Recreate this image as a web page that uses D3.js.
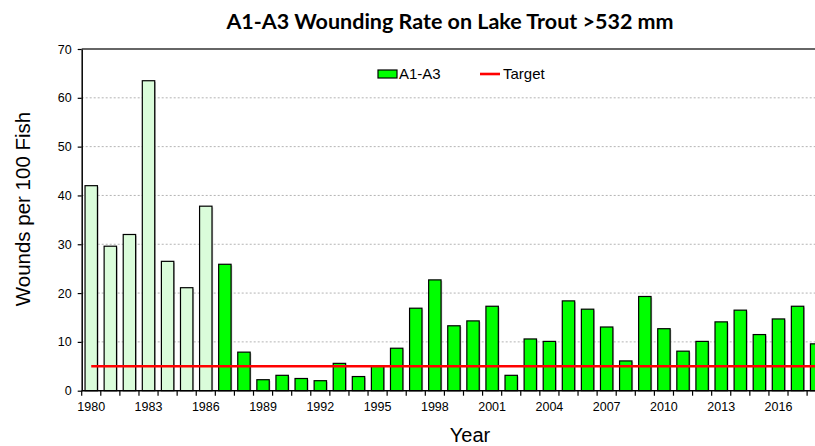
<!DOCTYPE html>
<html>
<head>
<meta charset="utf-8">
<script src="https://cdn.jsdelivr.net/npm/d3@7"></script>
<style>
    html, body { margin: 0; padding: 0; background: #fff; }
    svg { display: block; font-family: "Liberation Sans", Arial, sans-serif; }
    .grid line { stroke: #b4b4b4; stroke-dasharray: 2,2; stroke-width: 1; }
    .bar { stroke: #000; stroke-width: 1.2; }
</style>
</head>
<body>
<svg id="chart" width="815" height="446"></svg>
<script>
// data
const years= d3.range(1980, 2019)
const wounds= [
    42.0, 29.6, 32.0, 63.5, 26.5, 21.1, 37.8,   // early (pale bars)
    25.9, 7.9, 2.25, 3.15, 2.5, 2.05, 5.6, 2.9, 5.1, 8.7,
    16.9, 22.7, 13.3, 14.3, 17.3, 3.15, 10.6, 10.1, 18.4, 16.7,
    13.05, 6.1, 19.3, 12.7, 8.1, 10.1, 14.1, 16.5, 11.5, 14.7,
    17.3, 9.6,
]
const pale_until= 1986
const target= 5
const y_ticks= [0, 10, 20, 30, 40, 50, 60, 70]
const x_labels= d3.range(1980, 2019, 3)

const svg= d3.select("#chart")

// plot box (runs past the right edge of the window, as in the picture)
const plot_left= 81.7, plot_right= 826.2, plot_top= 49, plot_bottom= 390.7

const x= d3.scaleBand()
    .domain(years)
    .range([plot_left, plot_right])
    .paddingInner(0.35)
    .paddingOuter(0.175)

const y= d3.scaleLinear()
    .domain([0, 70])
    .range([plot_bottom, plot_top])

// dashed grid
svg.append("g")
    .attr("class", "grid")
    .selectAll("line")
    .data(y_ticks.filter(d => d > 0 && d < 70))
    .join("line")
    .attr("x1", plot_left).attr("x2", plot_right)
    .attr("y1", d => y(d)).attr("y2", d => y(d))

// top frame line
svg.append("line")
    .attr("x1", plot_left).attr("x2", plot_right)
    .attr("y1", y(70)).attr("y2", y(70))
    .attr("stroke", "#333").attr("stroke-width", 1.5)

// bars with a soft shadow
let rows= years.map((yr, i) => ({year: yr, value: wounds[i]}))

svg.append("g")
    .selectAll("rect")
    .data(rows)
    .join("rect")
    .attr("x", d => x(d.year) + 1.2)
    .attr("y", d => y(d.value) + 1.2)
    .attr("width", x.bandwidth())
    .attr("height", d => y(0) - y(d.value) - 1.2)
    .attr("fill", "#9a9a9a")
    .attr("opacity", 0.6)

svg.append("g")
    .selectAll("rect")
    .data(rows)
    .join("rect")
    .attr("class", "bar")
    .attr("x", d => x(d.year))
    .attr("y", d => y(d.value))
    .attr("width", x.bandwidth())
    .attr("height", d => y(0) - y(d.value))
    .attr("fill", d => d.year <= pale_until ? "#dafcda" : "#00ff00")

// target line
svg.append("path")
    .attr("d", d3.line()(
        [years[0], years[years.length-1]].map(yr => [x(yr) + x.bandwidth()/2, y(target)])
    ))
    .attr("stroke", "#ff0000")
    .attr("stroke-width", 2.6)
    .attr("fill", "none")

// y axis
const y_axis= svg.append("g")
    .attr("transform", `translate(${plot_left},0)`)
    .call(d3.axisLeft(y).tickValues(y_ticks).tickSize(4).tickSizeOuter(0).tickPadding(6))
y_axis.select(".domain").attr("stroke", "#000").attr("stroke-width", 1.5)
y_axis.selectAll(".tick line").attr("stroke", "#000").attr("stroke-width", 1.2)
y_axis.selectAll("text")
    .attr("font-family", "Liberation Sans, Arial, sans-serif")
    .attr("font-size", 12.5).attr("fill", "#000")

// x axis: ticks at category boundaries, labels every third year
const boundary= yr => x(yr) + x.bandwidth()/2 - x.step()/2
const x_axis= svg.append("g")
x_axis.append("line")
    .attr("x1", plot_left).attr("x2", plot_right)
    .attr("y1", plot_bottom).attr("y2", plot_bottom)
    .attr("stroke", "#000").attr("stroke-width", 1.5)
x_axis.selectAll("line.tick")
    .data(years)
    .join("line")
    .attr("class", "tick")
    .attr("x1", d => boundary(d)).attr("x2", d => boundary(d))
    .attr("y1", plot_bottom).attr("y2", plot_bottom + 5)
    .attr("stroke", "#000").attr("stroke-width", 1.2)
x_axis.selectAll("text")
    .data(x_labels)
    .join("text")
    .attr("x", d => x(d) + x.bandwidth()/2)
    .attr("y", plot_bottom + 20)
    .attr("text-anchor", "middle")
    .attr("font-size", 12.5)
    .text(d => d)

// titles
svg.append("text")
    .attr("x", 450).attr("y", 29)
    .attr("text-anchor", "middle")
    .attr("font-family", "Lato, 'Open Sans', sans-serif")
    .attr("font-weight", "bold")
    .attr("font-size", 21.5)
    .text("A1-A3 Wounding Rate on Lake Trout >532 mm")

svg.append("text")
    .attr("x", 470).attr("y", 442)
    .attr("text-anchor", "middle")
    .attr("font-size", 20)
    .text("Year")

svg.append("text")
    .attr("transform", "translate(30,209) rotate(-90)")
    .attr("text-anchor", "middle")
    .attr("font-size", 20.5)
    .text("Wounds per 100 Fish")

// legend
const legend= svg.append("g")
legend.append("rect")
    .attr("x", 378).attr("y", 70)
    .attr("width", 19).attr("height", 8)
    .attr("fill", "#00ff00").attr("stroke", "#000").attr("stroke-width", 1.2)
legend.append("text")
    .attr("x", 399).attr("y", 78.5)
    .attr("font-size", 15)
    .text("A1-A3")
legend.append("line")
    .attr("x1", 480).attr("x2", 500)
    .attr("y1", 74).attr("y2", 74)
    .attr("stroke", "#ff0000").attr("stroke-width", 2.6)
legend.append("text")
    .attr("x", 503).attr("y", 78.5)
    .attr("font-size", 15)
    .text("Target")
</script>
</body>
</html>
